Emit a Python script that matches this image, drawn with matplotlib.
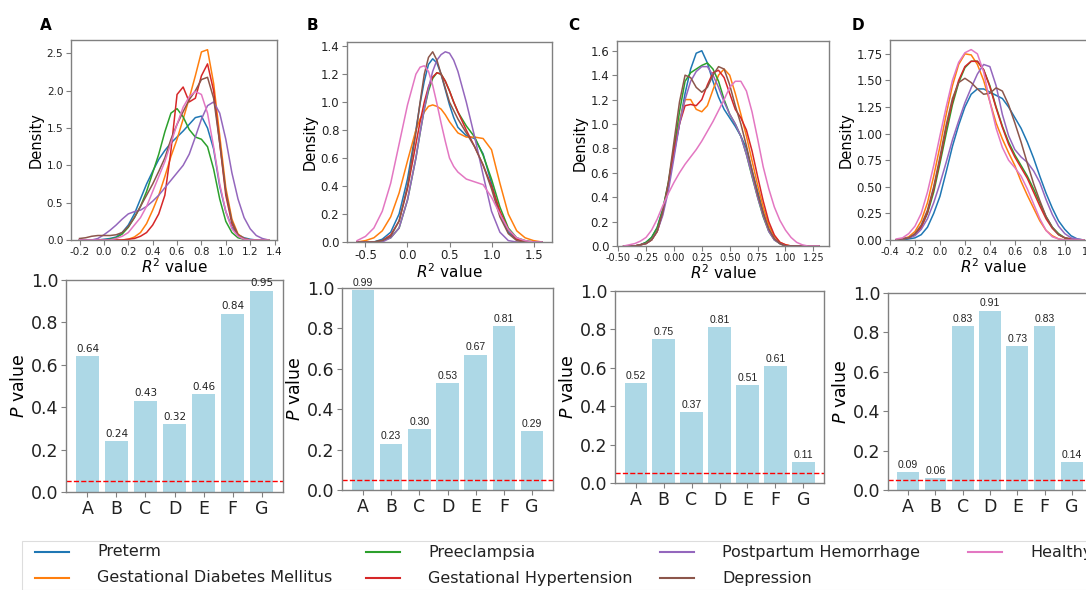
import numpy as np
import matplotlib
matplotlib.use('Agg')
import matplotlib.pyplot as plt
from matplotlib.lines import Line2D
from matplotlib.patches import Rectangle

# condition names and colours (tab10 order)
conditions = ['Preterm', 'Gestational Diabetes Mellitus', 'Preeclampsia',
              'Gestational Hypertension', 'Postpartum Hemorrhage', 'Depression', 'Healthy']
colors = ['#1f77b4', '#ff7f0e', '#2ca02c', '#d62728', '#9467bd', '#8c564b', '#e377c2']

# ---- panel A densities ----
a_x = [-0.2, -0.15, -0.1, -0.05, 0.0, 0.05, 0.1, 0.15, 0.2, 0.25, 0.3, 0.35, 0.4, 0.45, 0.5, 0.55,
       0.6, 0.65, 0.7, 0.75, 0.8, 0.85, 0.9, 0.95, 1.0, 1.05, 1.1, 1.15, 1.2, 1.25, 1.3, 1.35]
a_preterm = [0, 0, 0, 0, 0.01, 0.02, 0.04, 0.1, 0.2, 0.35, 0.55, 0.75, 0.92, 1.08, 1.2, 1.3,
             1.38, 1.46, 1.55, 1.64, 1.66, 1.5, 1.22, 0.72, 0.38, 0.17, 0.07, 0.03, 0.01, 0, 0, 0]
a_gdm = [0, 0, 0, 0, 0, 0, 0, 0, 0.01, 0.04, 0.1, 0.22, 0.4, 0.6, 0.85, 1.12,
         1.35, 1.62, 1.9, 2.2, 2.52, 2.55, 2.1, 1.4, 0.7, 0.28, 0.08, 0.02, 0, 0, 0, 0]
a_preeclampsia = [0, 0, 0, 0, 0, 0.01, 0.03, 0.08, 0.17, 0.3, 0.45, 0.65, 0.9, 1.15, 1.45, 1.7,
                  1.76, 1.65, 1.48, 1.38, 1.35, 1.25, 0.95, 0.55, 0.25, 0.1, 0.03, 0.01, 0, 0, 0, 0]
a_hypertension = [0, 0, 0, 0, 0, 0, 0, 0, 0.01, 0.02, 0.05, 0.1, 0.2, 0.35, 0.6, 1.2,
                  1.95, 2.05, 1.85, 1.9, 2.2, 2.36, 2.0, 1.3, 0.6, 0.22, 0.06, 0.01, 0, 0, 0, 0]
a_hemorrhage = [0, 0, 0, 0.02, 0.07, 0.13, 0.2, 0.28, 0.35, 0.38, 0.4, 0.45, 0.52, 0.6, 0.7, 0.8,
                0.9, 1.0, 1.15, 1.38, 1.62, 1.8, 1.85, 1.7, 1.35, 0.9, 0.55, 0.3, 0.15, 0.06, 0.02, 0]
a_depression = [0.02, 0.03, 0.05, 0.06, 0.06, 0.06, 0.07, 0.1, 0.18, 0.3, 0.45, 0.6, 0.75, 0.92, 1.1, 1.35,
                1.55, 1.72, 1.88, 2.0, 2.15, 2.18, 1.9, 1.3, 0.65, 0.25, 0.07, 0.02, 0, 0, 0, 0]
a_healthy = [0, 0, 0, 0, 0, 0, 0.02, 0.05, 0.1, 0.2, 0.3, 0.45, 0.65, 0.85, 1.05, 1.3,
             1.55, 1.78, 1.92, 1.99, 1.95, 1.7, 1.25, 0.75, 0.38, 0.15, 0.05, 0.01, 0, 0, 0, 0]

# ---- panel B densities ----
b_x = [-0.6, -0.5, -0.4, -0.3, -0.2, -0.1, 0.0, 0.1, 0.15, 0.2, 0.25, 0.3, 0.35, 0.4,
       0.45, 0.5, 0.55, 0.6, 0.7, 0.8, 0.9, 1.0, 1.1, 1.2, 1.3, 1.4, 1.5, 1.6]
b_preterm = [0, 0, 0, 0.02, 0.07, 0.2, 0.45, 0.8, 0.99, 1.15, 1.27, 1.31, 1.28, 1.2,
             1.09, 0.98, 0.89, 0.82, 0.76, 0.74, 0.63, 0.42, 0.2, 0.07, 0.02, 0, 0, 0]
b_gdm = [0, 0.01, 0.03, 0.08, 0.18, 0.35, 0.58, 0.8, 0.88, 0.93, 0.97, 0.98, 0.97, 0.95,
         0.91, 0.86, 0.82, 0.78, 0.75, 0.75, 0.74, 0.66, 0.42, 0.2, 0.08, 0.03, 0.01, 0]
b_preeclampsia = [0, 0, 0, 0.01, 0.03, 0.1, 0.3, 0.6, 0.78, 0.95, 1.08, 1.17, 1.21, 1.2,
                  1.15, 1.08, 1.0, 0.93, 0.83, 0.75, 0.62, 0.45, 0.25, 0.1, 0.03, 0.01, 0, 0]
b_hypertension = [0, 0, 0, 0.01, 0.05, 0.15, 0.38, 0.7, 0.86, 1.0, 1.11, 1.18, 1.21, 1.2,
                  1.15, 1.08, 1.0, 0.93, 0.8, 0.68, 0.55, 0.4, 0.22, 0.09, 0.02, 0, 0, 0]
b_hemorrhage = [0, 0, 0, 0, 0.03, 0.1, 0.3, 0.6, 0.78, 0.95, 1.1, 1.22, 1.3, 1.34,
                1.36, 1.35, 1.3, 1.22, 1.0, 0.75, 0.48, 0.22, 0.07, 0.01, 0, 0, 0, 0]
b_depression = [0, 0, 0, 0.01, 0.04, 0.15, 0.4, 0.78, 1.0, 1.2, 1.32, 1.36, 1.3, 1.2,
                1.1, 1.0, 0.94, 0.88, 0.78, 0.68, 0.55, 0.38, 0.18, 0.06, 0.01, 0, 0, 0]
b_healthy = [0.01, 0.04, 0.1, 0.22, 0.42, 0.7, 0.98, 1.2, 1.25, 1.26, 1.22, 1.12, 0.99, 0.85,
             0.72, 0.6, 0.54, 0.5, 0.45, 0.43, 0.41, 0.32, 0.2, 0.09, 0.03, 0.01, 0, 0]

# ---- panel C densities ----
c_x = [-0.45, -0.4, -0.35, -0.3, -0.25, -0.2, -0.15, -0.1, -0.05, 0.0, 0.05, 0.1,
       0.15, 0.2, 0.25, 0.3, 0.35, 0.4, 0.45, 0.5, 0.55, 0.6, 0.65, 0.7,
       0.75, 0.8, 0.85, 0.9, 0.95, 1.0, 1.05, 1.1, 1.15, 1.2, 1.25, 1.3]
c_preterm = [0, 0, 0, 0.01, 0.03, 0.07, 0.15, 0.3, 0.5, 0.75, 1.0, 1.25,
             1.45, 1.58, 1.6, 1.5, 1.35, 1.22, 1.12, 1.05, 0.98, 0.9, 0.8, 0.62,
             0.45, 0.28, 0.14, 0.06, 0.02, 0, 0, 0, 0, 0, 0, 0]
c_gdm = [0, 0, 0, 0.01, 0.02, 0.05, 0.12, 0.27, 0.5, 0.78, 1.02, 1.2,
         1.2, 1.12, 1.1, 1.15, 1.28, 1.4, 1.45, 1.4, 1.25, 1.08, 0.9, 0.7,
         0.5, 0.32, 0.17, 0.08, 0.03, 0.01, 0, 0, 0, 0, 0, 0]
c_preeclampsia = [0, 0, 0, 0.01, 0.03, 0.07, 0.15, 0.3, 0.52, 0.8, 1.1, 1.35,
                  1.42, 1.45, 1.48, 1.5, 1.45, 1.35, 1.2, 1.08, 1.0, 0.9, 0.75, 0.57,
                  0.4, 0.24, 0.12, 0.05, 0.02, 0, 0, 0, 0, 0, 0, 0]
c_hypertension = [0, 0, 0, 0.01, 0.02, 0.05, 0.12, 0.27, 0.5, 0.78, 1.0, 1.15,
                  1.16, 1.15, 1.2, 1.32, 1.42, 1.44, 1.38, 1.25, 1.12, 1.05, 0.95, 0.78,
                  0.57, 0.37, 0.2, 0.09, 0.03, 0.01, 0, 0, 0, 0, 0, 0]
c_hemorrhage = [0, 0, 0, 0.01, 0.02, 0.05, 0.12, 0.25, 0.45, 0.72, 1.0, 1.2,
                1.35, 1.43, 1.47, 1.47, 1.4, 1.3, 1.18, 1.08, 1.0, 0.9, 0.75, 0.58,
                0.4, 0.25, 0.12, 0.05, 0.02, 0, 0, 0, 0, 0, 0, 0]
c_depression = [0, 0, 0, 0.01, 0.02, 0.05, 0.12, 0.28, 0.52, 0.85, 1.18, 1.4,
                1.38, 1.3, 1.26, 1.3, 1.4, 1.47, 1.45, 1.32, 1.15, 1.0, 0.82, 0.62,
                0.43, 0.27, 0.14, 0.06, 0.02, 0, 0, 0, 0, 0, 0, 0]
c_healthy = [0, 0.01, 0.02, 0.04, 0.07, 0.13, 0.22, 0.33, 0.43, 0.52, 0.6, 0.67,
             0.73, 0.79, 0.86, 0.94, 1.02, 1.11, 1.2, 1.3, 1.35, 1.35, 1.27, 1.1,
             0.88, 0.65, 0.47, 0.32, 0.21, 0.13, 0.07, 0.03, 0.01, 0, 0, 0]

# ---- panel D densities ----
d_x = [-0.35, -0.3, -0.25, -0.2, -0.15, -0.1, -0.05, 0.0, 0.05, 0.1, 0.15, 0.2, 0.25,
       0.3, 0.35, 0.4, 0.45, 0.5, 0.55, 0.6, 0.65, 0.7, 0.75, 0.8, 0.85, 0.9,
       0.95, 1.0, 1.05, 1.1, 1.15]
d_preterm = [0, 0, 0.01, 0.02, 0.05, 0.12, 0.25, 0.41, 0.64, 0.88, 1.08, 1.25, 1.37,
             1.42, 1.42, 1.39, 1.36, 1.33, 1.25, 1.15, 1.05, 0.92, 0.77, 0.6, 0.44, 0.3,
             0.18, 0.1, 0.04, 0.01, 0]
d_gdm = [0, 0.01, 0.03, 0.08, 0.18, 0.35, 0.6, 0.88, 1.18, 1.45, 1.65, 1.75, 1.74,
         1.65, 1.5, 1.3, 1.1, 0.95, 0.82, 0.7, 0.55, 0.42, 0.3, 0.18, 0.09, 0.04,
         0.01, 0, 0, 0, 0]
d_preeclampsia = [0, 0.01, 0.02, 0.05, 0.12, 0.25, 0.45, 0.72, 1.0, 1.27, 1.48, 1.62, 1.68,
                  1.68, 1.6, 1.45, 1.25, 1.07, 0.92, 0.8, 0.7, 0.6, 0.48, 0.35, 0.22, 0.12,
                  0.06, 0.02, 0.01, 0, 0]
d_hypertension = [0, 0.01, 0.02, 0.05, 0.12, 0.26, 0.48, 0.75, 1.05, 1.3, 1.5, 1.63, 1.68,
                  1.68, 1.6, 1.44, 1.24, 1.06, 0.9, 0.78, 0.68, 0.58, 0.45, 0.32, 0.2, 0.11,
                  0.05, 0.02, 0.01, 0, 0]
d_hemorrhage = [0, 0.01, 0.02, 0.04, 0.1, 0.2, 0.35, 0.53, 0.73, 0.94, 1.12, 1.29, 1.43,
                1.56, 1.65, 1.63, 1.45, 1.18, 0.98, 0.85, 0.78, 0.73, 0.65, 0.54, 0.38, 0.24,
                0.13, 0.06, 0.02, 0.01, 0]
d_depression = [0, 0.01, 0.02, 0.06, 0.14, 0.28, 0.5, 0.78, 1.08, 1.33, 1.48, 1.52, 1.48,
                1.42, 1.37, 1.38, 1.43, 1.4, 1.27, 1.1, 0.92, 0.72, 0.53, 0.37, 0.22, 0.12,
                0.05, 0.02, 0, 0, 0]
d_healthy = [0.01, 0.02, 0.06, 0.13, 0.25, 0.45, 0.7, 0.98, 1.25, 1.5, 1.67, 1.76, 1.79,
             1.75, 1.58, 1.3, 1.05, 0.87, 0.75, 0.68, 0.6, 0.48, 0.34, 0.2, 0.09, 0.03,
             0.01, 0, 0, 0, 0]

# ---- P values ----
bar_labels = ['A', 'B', 'C', 'D', 'E', 'F', 'G']
p_a = [0.64, 0.24, 0.43, 0.32, 0.46, 0.84, 0.95]
p_b = [0.99, 0.23, 0.30, 0.53, 0.67, 0.81, 0.29]
p_c = [0.52, 0.75, 0.37, 0.81, 0.51, 0.61, 0.11]
p_d = [0.09, 0.06, 0.83, 0.91, 0.73, 0.83, 0.14]
threshold = 0.05

W, H = 1086, 590
fig = plt.figure(figsize=(W / 100, H / 100), dpi=100)


def box(l, t, r, b):
    return [l / W, 1 - b / H, (r - l) / W, (b - t) / H]


def style(ax):
    for s in ax.spines.values():
        s.set_color('#808080')
        s.set_linewidth(1.0)
    ax.tick_params(color='#808080', labelcolor='#222222', length=3.5)


panels = [
    ('A', a_x, [a_preterm, a_gdm, a_preeclampsia, a_hypertension, a_hemorrhage, a_depression, a_healthy],
     box(71, 40, 277, 240), (-0.27, 1.42), (0, 2.68),
     [-0.2, 0.0, 0.2, 0.4, 0.6, 0.8, 1.0, 1.2, 1.4], [0, 0.5, 1.0, 1.5, 2.0, 2.5], 7.5, 7.5, (40, 25)),
    ('B', b_x, [b_preterm, b_gdm, b_preeclampsia, b_hypertension, b_hemorrhage, b_depression, b_healthy],
     box(347, 42, 552, 242), (-0.72, 1.72), (0, 1.43),
     [-0.5, 0.0, 0.5, 1.0, 1.5], [0, 0.2, 0.4, 0.6, 0.8, 1.0, 1.2, 1.4], 8.5, 8.5, (307, 25)),
    ('C', c_x, [c_preterm, c_gdm, c_preeclampsia, c_hypertension, c_hemorrhage, c_depression, c_healthy],
     box(617, 41, 829, 246), (-0.51, 1.39), (0, 1.68),
     [-0.5, -0.25, 0.0, 0.25, 0.5, 0.75, 1.0, 1.25], [0, 0.2, 0.4, 0.6, 0.8, 1.0, 1.2, 1.4, 1.6], 7, 8.5, (568, 25)),
    ('D', d_x, [d_preterm, d_gdm, d_preeclampsia, d_hypertension, d_hemorrhage, d_depression, d_healthy],
     box(890, 40, 1096, 240), (-0.4, 1.25), (0, 1.88),
     [-0.4, -0.2, 0.0, 0.2, 0.4, 0.6, 0.8, 1.0, 1.2], [0, 0.25, 0.5, 0.75, 1.0, 1.25, 1.5, 1.75], 7, 8.5, (852, 25)),
]

for letter, xs, curves, pos, xl, yl, xt, yt, xfs, yfs, lpos in panels:
    ax = fig.add_axes(pos)
    for ys, col, name in zip(curves, colors, conditions):
        ax.plot(xs, ys, color=col, lw=1.1, label=name)
    ax.set_xlim(*xl)
    ax.set_ylim(*yl)
    ax.set_xticks(xt)
    ax.set_yticks(yt)
    if letter == 'C' or letter == 'D':
        ax.set_xticklabels([f'{v:.2f}' if letter == 'C' else f'{v:.1f}' for v in xt])
        ax.set_yticklabels([f'{v:.1f}' if letter == 'C' else f'{v:.2f}' for v in yt])
    else:
        ax.set_xticklabels([f'{v:.1f}' for v in xt])
        ax.set_yticklabels([f'{v:.1f}' for v in yt])
    ax.tick_params(axis='x', labelsize=xfs, pad=1.5)
    ax.tick_params(axis='y', labelsize=yfs, pad=2)
    ax.set_xlabel('$R^2$ value', fontsize=11, labelpad=0)
    ax.set_ylabel('Density', fontsize=10.5, labelpad=2)
    style(ax)
    fig.text(lpos[0] / W, 1 - lpos[1] / H, letter, fontsize=11, fontweight='bold',
             ha='left', va='center')

bar_panels = [
    (p_a, box(66, 280, 283, 492), 'DejaVu Sans'),
    (p_b, box(342, 288, 553, 490), 'Liberation Sans'),
    (p_c, box(615, 291, 824, 483), 'Liberation Sans'),
    (p_d, box(888, 293, 1092, 490), 'Liberation Sans'),
]

for vals, pos, vfont in bar_panels:
    ax = fig.add_axes(pos)
    xs = np.arange(len(bar_labels))
    ax.bar(xs, vals, width=0.8, color='#add8e6')
    for x, v in zip(xs, vals):
        ax.text(x, v + 0.012, f'{v:.2f}', ha='center', va='bottom', fontsize=7.5,
                family=vfont, color='#222222')
    ax.axhline(threshold, color='red', ls='--', lw=1)
    ax.set_xticks(xs)
    ax.set_xticklabels(bar_labels)
    ax.set_ylim(0, 1.0)
    ax.set_yticks([0, 0.2, 0.4, 0.6, 0.8, 1.0])
    ax.set_yticklabels(['0.0', '0.2', '0.4', '0.6', '0.8', '1.0'])
    ax.tick_params(labelsize=12.5, pad=2)
    ax.set_ylabel('$P$ value', fontsize=12.5, labelpad=2)
    style(ax)

# legend laid out by hand (two rows, four columns, filled column by column)
leg_text_x = [97, 428, 722, 1030]
leg_row_y = [552, 578]
fig.add_artist(Rectangle((22 / W, 0), (W + 20) / W, 1 - 541 / H, transform=fig.transFigure,
                         facecolor='white', edgecolor='#dddddd', lw=0.8))
for i, (name, col) in enumerate(zip(conditions, colors)):
    tx = leg_text_x[i // 2]
    ty = leg_row_y[i % 2]
    fig.add_artist(Line2D([(tx - 62) / W, (tx - 28) / W], [1 - ty / H, 1 - ty / H],
                          transform=fig.transFigure, color=col, lw=1.5))
    fig.text(tx / W, 1 - ty / H, name, fontsize=11.5, ha='left', va='center', color='#222222')

fig.savefig('out.png', dpi=100)
